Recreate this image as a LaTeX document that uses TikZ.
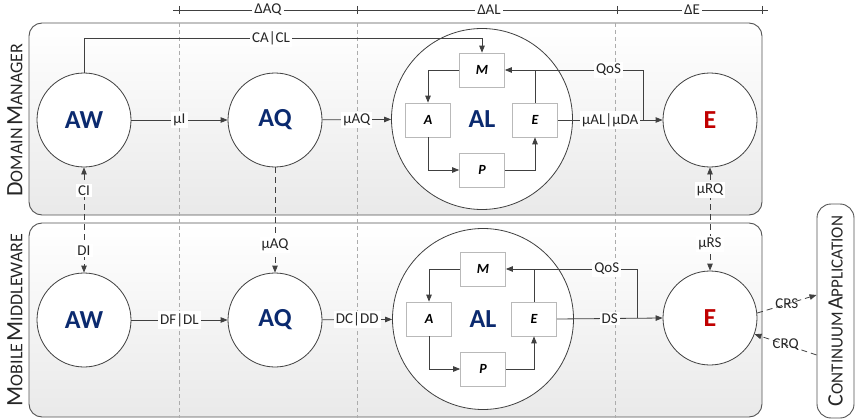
\documentclass[tikz,border=0pt]{standalone}
\usepackage{fontspec}
\setmainfont{Carlito}
\usetikzlibrary{arrows.meta}
\definecolor{navy}{HTML}{0B2A6F}
\definecolor{ered}{HTML}{C00000}
\definecolor{ln}{HTML}{404040}
\newcommand{\fsc}[2]{{\fontsize{23.5}{23.5}\selectfont #1}{\fontsize{18}{18}\selectfont #2}}
\newcommand{\fscb}[2]{{\fontsize{22}{22}\selectfont #1}{\fontsize{17}{17}\selectfont #2}}
\begin{document}
\begin{tikzpicture}[x=1pt,y=-1pt,
  >={Triangle[length=7pt,width=5.5pt]},
  panel/.style={draw=ln!90, line width=0.9pt, rounded corners=13pt, top color=white, bottom color=gray!17},
  guide/.style={draw=gray!65, line width=0.6pt, dash pattern=on 4pt off 3pt},
  bigc/.style={circle, draw=ln, fill=white, line width=0.8pt, minimum size=94pt, inner sep=0pt, font=\fontsize{26}{26}\selectfont\bfseries, text=navy},
  alc/.style={bigc, minimum size=181pt},
  mbox/.style={rectangle, draw=gray!55, fill=white, line width=0.7pt, minimum width=45pt, minimum height=34pt, inner sep=0pt, font=\fontsize{14}{14}\selectfont\bfseries\itshape},
  arr/.style={draw=ln, line width=0.8pt, ->},
  plain/.style={draw=ln, line width=0.8pt},
  darr/.style={draw=ln, line width=0.8pt, dash pattern=on 6pt off 4pt},
  lab/.style={fill=white, inner sep=2pt, font=\fontsize{15}{15}\selectfont, text=black!85},
  lab2/.style={inner sep=1pt, font=\fontsize{15}{15}\selectfont, text=black!85}
]
\useasboundingbox (0,0) rectangle (855,420);
% panels
\path[panel] (29,23) rectangle (762,215);
\path[panel] (29,223) rectangle (762,417);
% guides
\foreach \gx in {179,357,615} \draw[guide] (\gx,23) -- (\gx,418);
% timeline
\draw[ln, line width=0.7pt] (173,10) -- (768,10);
\foreach \tx in {179,357,617,762} \draw[ln, line width=0.7pt] (\tx,6) -- (\tx,14);
\node[lab] (tAQ) at (268,10) {ΔAQ};
\node[lab] (tAL) at (489,10) {ΔAL};
\node[lab] (tE) at (692,10) {ΔE};
% panel titles
\node[rotate=90, text=black!85] (dm) at (15,120) {\fsc{D}{OMAIN} \fsc{M}{ANAGER}};
\node[rotate=90, text=black!85] (mm) at (15,320) {\fsc{M}{OBILE} \fsc{M}{IDDLEWARE}};
% continuum application
\node[rotate=90, draw=ln!90, line width=0.9pt, rounded corners=14pt, fill=white, minimum width=214pt, minimum height=37pt, inner sep=0pt, text=black!85] (ca) at (835.5,311) {\fscb{C}{ONTINUUM} \fscb{A}{PPLICATION}};
% top row
\node[bigc] (aw1) at (84,120) {AW};
\node[bigc] (aq1) at (275,120) {AQ};
\node[alc] (al1) at (482,119) {AL};
\node[bigc, text=ered] (ee1) at (710,120) {E};
\node[mbox] (m1) at (482,70) {M};
\node[mbox] (a1) at (428,120) {A};
\node[mbox] (e1) at (535,120) {E};
\node[mbox] (p1) at (482,170) {P};
% bottom row
\node[bigc] (aw2) at (84,320) {AW};
\node[bigc] (aq2) at (275,320) {AQ};
\node[alc] (al2) at (483,319) {AL};
\node[bigc, text=ered] (ee2) at (710,318) {E};
\node[mbox] (m2) at (483,269) {M};
\node[mbox] (a2) at (429,319) {A};
\node[mbox] (e2) at (534,319) {E};
\node[mbox] (p2) at (483,369) {P};
% top connectors
\coordinate (c1) at (84,38);
\coordinate (c2) at (482,38);
\draw[arr] (aw1.north) -- (c1) -- node[lab,pos=0.47]{CA|CL} (c2) -- (m1.north);
\draw[arr] (aw1) -- node[lab]{μI} (aq1);
\draw[arr] (aq1) -- node[lab]{μAQ} (al1);
\draw[arr] (m1.west) -| (a1.north);
\draw[arr] (a1.south) |- (p1.west);
\draw[arr] (p1.east) -| (e1.south);
\draw[plain] (e1.north) -- (e1.north |- m1.east);
\draw[arr] (e1.east) -- node[lab]{μAL|μDA} (ee1.west);
\coordinate (q1) at (643,120);
\coordinate (q1t) at (643,70);
\draw[arr] (q1) -- (q1t) -- node[lab,pos=0.25]{QoS} (m1.east);
% bottom connectors
\draw[arr] (aw2) -- node[lab]{DF|DL} (aq2);
\draw[arr] (aq2) -- node[lab]{DC|DD} (al2);
\draw[arr] (m2.west) -| (a2.north);
\draw[arr] (a2.south) |- (p2.west);
\draw[arr] (p2.east) -| (e2.south);
\draw[plain] (e2.north) -- (e2.north |- m2.east);
\draw[arr] (e2.east) -- node[lab]{DS} (ee2.west);
\coordinate (q2) at (637,318);
\coordinate (q2t) at (637,269);
\draw[arr] (q2) -- (q2t) -- node[lab,pos=0.23]{QoS} (m2.east);
% vertical dashed connectors
\draw[darr, <->] (aw1.south) -- node[lab,pos=0.22]{CI} node[lab,pos=0.79]{DI} (aw2.north);
\draw[darr, ->] (aq1.south) -- node[lab,pos=0.74]{μAQ} (aq2.north);
\draw[darr, <->] (ee1.south) -- node[lab,pos=0.22]{μRQ} node[lab,pos=0.74]{μRS} (ee2.north);
% continuum connectors
\draw[darr, ->] (ee2.6) -- node[lab2]{CRS} (ca.north |- 0,295);
\draw[darr, ->] (ca.north |- 0,355) -- node[lab2]{CRQ} (ee2.-20);
\end{tikzpicture}
\end{document}
